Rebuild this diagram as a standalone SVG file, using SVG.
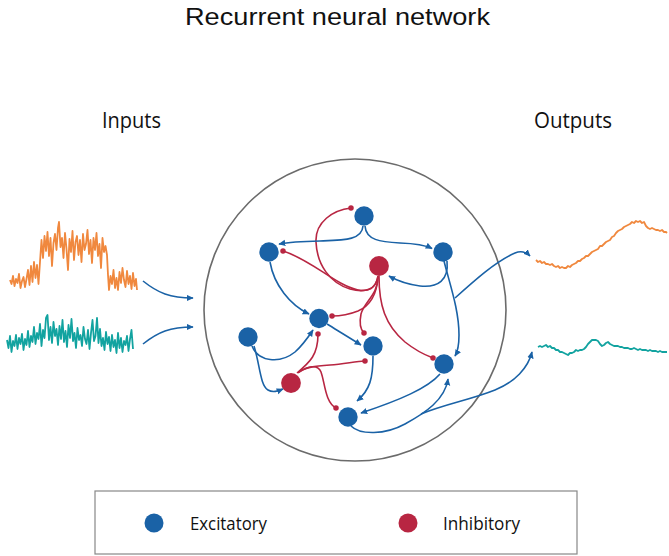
<svg xmlns="http://www.w3.org/2000/svg" width="669" height="556" viewBox="0 0 669 556">
<defs>
<style>
.txt{font-family:"Open Sans","Liberation Sans",sans-serif;fill:#111}
.title{font-family:"Liberation Sans","Open Sans",sans-serif;fill:#111}
.exc{fill:#1a62a6}
.inh{fill:#b82642}
.e{fill:none;stroke:#1a62a6;stroke-width:1.6;marker-end:url(#tri)}
.i{fill:none;stroke:#b82642;stroke-width:1.6;marker-end:url(#dot)}
.trace{fill:none;stroke-width:1.8;stroke-linejoin:round}
</style>
<marker id="tri" viewBox="0 0 10 10" refX="9" refY="5" markerWidth="7" markerHeight="7" markerUnits="userSpaceOnUse" orient="auto"><path d="M0,0.5 L10,5 L0,9.5 z" fill="#1a62a6"/></marker>
<marker id="dot" viewBox="0 0 10 10" refX="5" refY="5" markerWidth="5.5" markerHeight="5.5" markerUnits="userSpaceOnUse"><circle cx="5" cy="5" r="5" fill="#b82642"/></marker>
</defs>
<rect width="669" height="556" fill="#fff"/>
<text class="title" x="185" y="25" font-size="24.5" textLength="305" lengthAdjust="spacingAndGlyphs">Recurrent neural network</text>
<text class="txt" x="102" y="128" font-size="21.5" textLength="59" lengthAdjust="spacingAndGlyphs">Inputs</text>
<text class="txt" x="534" y="128" font-size="21.5" textLength="78" lengthAdjust="spacingAndGlyphs">Outputs</text>
<g id="network-boundary"><circle cx="355" cy="310" r="151" fill="none" stroke="#6b6b6b" stroke-width="1.6"/></g>
<g id="input-traces">
<polyline class="trace" stroke="#f0883e" points="10,280 11.5,284 13,276 14.5,286 16,279 17.5,283 19,274 20.5,288 22,281 23.5,277 25,287 26.5,279 28,270 29.5,285 31,266 32.5,282 34,262 35.5,278 37,265 38.5,284 40,262 41.5,240 43,258 44.5,236 46,251 47.5,232 49,256 50.5,238 52,266 53.5,243 55,234 56.5,250 58,228 59,222 60.5,247 62,238 63.5,258 65,233 66.5,249 68,270 69.5,239 71,252 72.5,231 74,260 75.5,242 77,236 78.5,255 80,240 81.5,262 83,234 84.5,250 86,244 87.5,230 89,254 90.5,240 92,263 93.5,238 95,250 96.5,233 98,256 99.5,244 101,268 102.5,238 104,252 105.5,246 107,255 108,275 109,290 110.5,276 112,284 113.5,270 115,288 116.5,278 118,290 119.5,272 121,283 122.5,268 124,280 125.5,287 127,271 128.5,284 130,276 131.5,289 133,273 134.5,286 136,279 137,290"/>
<polyline class="trace" stroke="#12a3a0" points="7,340 8.5,348 10,336 11.5,352 13,341 14.5,346 16,335 17.5,349 19,338 20.5,344 22,334 23.5,350 25,339 26.5,345 28,331 29.5,347 31,336 32.5,342 34,327 35.5,344 37,333 38.5,339 40,324 41.5,346 43,330 44.5,338 46,318 47.5,315 49,340 50.5,327 52,343 53.5,322 55,336 56.5,329 58,345 59.5,326 61,339 62.5,320 64,342 65.5,331 67,347 68.5,325 70,338 71.5,319 73,341 74.5,333 76,348 77.5,328 79,340 80.5,335 82,346 83.5,327 85,339 86.5,344 88,330 89.5,349 91,333 92.5,320 94,341 95.5,336 97,318 98.5,343 100,329 101.5,346 103,338 104.5,350 106,332 107.5,344 109,337 110.5,351 112,335 113.5,347 115,340 116.5,353 118,333 119.5,348 121,338 122.5,352 124,341 125.5,345 127,336 128.5,351 130,339 131.5,330 133,349"/>
</g>
<g id="output-traces">
<polyline class="trace" stroke="#f0883e" points="536,260 538,262 540,261 542,263 544,262 546,264 548,264 550,265 552,264 554,266 556,267 558,266 560,268 562,267 564,268 566,268 568,266 570,267 572,265 574,264 576,263 578,261 580,261 582,259 584,258 586,256 588,256 590,254 592,252 594,251 596,250 598,249 600,246 602,246 604,244 606,242 608,241 610,240 612,237 614,236 616,233 618,231 620,230 622,229 624,227 626,226 628,225 630,224 632,222 634,223 636,221 638,222 640,221 642,223 644,222 646,226 648,228 650,229 652,228 654,229 656,230 658,230 660,231 662,230 664,232 666,232 667,233"/>
<polyline class="trace" stroke="#12a3a0" points="538,347 540,346 542,347 544,346 546,345 548,347 550,346 552,348 554,348 556,350 558,350 560,352 562,352 564,353 566,354 568,355 570,353 572,353 574,352 576,350 578,351 580,350 582,350 584,349 586,347 588,344 590,342 592,340 594,340 596,340 598,341 600,344 602,346 604,345 606,343 608,342 610,344 612,345 614,346 616,346 618,346 620,347 622,347 624,348 626,348 628,348 630,349 632,349 634,348 636,349 638,350 640,349 642,350 644,350 646,350 648,351 650,350 652,351 654,351 656,351 658,352 660,351 662,352 664,352 667,352"/>
</g>
<g id="connectors">
<path class="e" d="M143,281 C158,293 170,298 193,298"/>
<path class="e" d="M143,344 C158,332 170,327 193,327"/>
<path class="i" d="M378,276 C376,290 365,293 350,289 C330,283 317,265 316,242 C315,222 333,210 351,208"/>
<path class="i" d="M378,276 C376,289 368,292 358,290 C335,285 312,260 283,251"/>
<path class="i" d="M378,277 C377,292 372,305 358,311 C348,315 340,316 332,316"/>
<path class="i" d="M378,277 C378,295 364,302 361,314 C359,324 361,330 364,333"/>
<path class="i" d="M379,276 C379,305 385,325 405,342 C415,350 425,355 433,358"/>
<path class="i" d="M297,373 C310,362 318,355 318,334"/>
<path class="i" d="M298,373 C305,367 315,366 330,365 C345,364 356,361 365,361"/>
<path class="i" d="M299,372 C308,366 318,364 321,372 C325,383 325,402 336,408"/>
<path class="e" d="M363,226 C362,240 345,240 320,241 C300,241.5 290,242 279,244"/>
<path class="e" d="M365,226 C366,240 380,242 400,243 C415,243.5 425,245 432,248.5"/>
<path class="e" d="M447,261 C449,280 438,288 420,286 C405,284 396,280 389,276"/>
<path class="e" d="M444,261 C450,285 459,310 459,335 C459,345 458,351 455,356"/>
<path class="e" d="M455,298 C475,280 495,262 515,253 C522,250 527,253 530,256"/>
<path class="e" d="M270,262 C274,285 290,305 309,314"/>
<path class="e" d="M327,324 C340,332 350,338 361,345"/>
<path class="e" d="M252,346 C258,362 280,364 295,352 C303,345 309,336 313,330"/>
<path class="e" d="M254,346 C260,365 260,385 268,390 C273,393 278,391 283,389"/>
<path class="e" d="M373,356 C373,378 370,390 357,401"/>
<path class="e" d="M440,374 C428,388 400,400 361,413"/>
<path class="e" d="M351,426 C360,435 385,435 405,424 C425,413 445,400 448,379"/>
<path class="e" d="M421,414 C445,404 470,400 495,390 C515,382 528,368 532,352"/>
</g>
<g id="node-A"><circle class="exc" cx="364" cy="216" r="9.7"/></g>
<g id="node-B"><circle class="exc" cx="269" cy="252" r="9.7"/></g>
<g id="node-C"><circle class="exc" cx="443" cy="252" r="9.7"/></g>
<g id="node-R1"><circle class="inh" cx="379" cy="266" r="9.9"/></g>
<g id="node-D"><circle class="exc" cx="319" cy="318.5" r="9.7"/></g>
<g id="node-E"><circle class="exc" cx="248" cy="337" r="9.7"/></g>
<g id="node-F"><circle class="exc" cx="373" cy="346" r="9.7"/></g>
<g id="node-G"><circle class="exc" cx="444" cy="364" r="9.7"/></g>
<g id="node-R2"><circle class="inh" cx="291" cy="383" r="9.9"/></g>
<g id="node-H"><circle class="exc" cx="348" cy="417" r="9.7"/></g>
<g id="legend">
<rect x="95" y="491" width="482" height="63" fill="none" stroke="#888" stroke-width="1.2"/>
<circle class="exc" cx="154" cy="523" r="9.5"/>
<text class="txt" x="190" y="530" font-size="18" textLength="77" lengthAdjust="spacingAndGlyphs">Excitatory</text>
<circle class="inh" cx="408" cy="523" r="9.5"/>
<text class="txt" x="443" y="530" font-size="18" textLength="77" lengthAdjust="spacingAndGlyphs">Inhibitory</text>
</g>
</svg>
